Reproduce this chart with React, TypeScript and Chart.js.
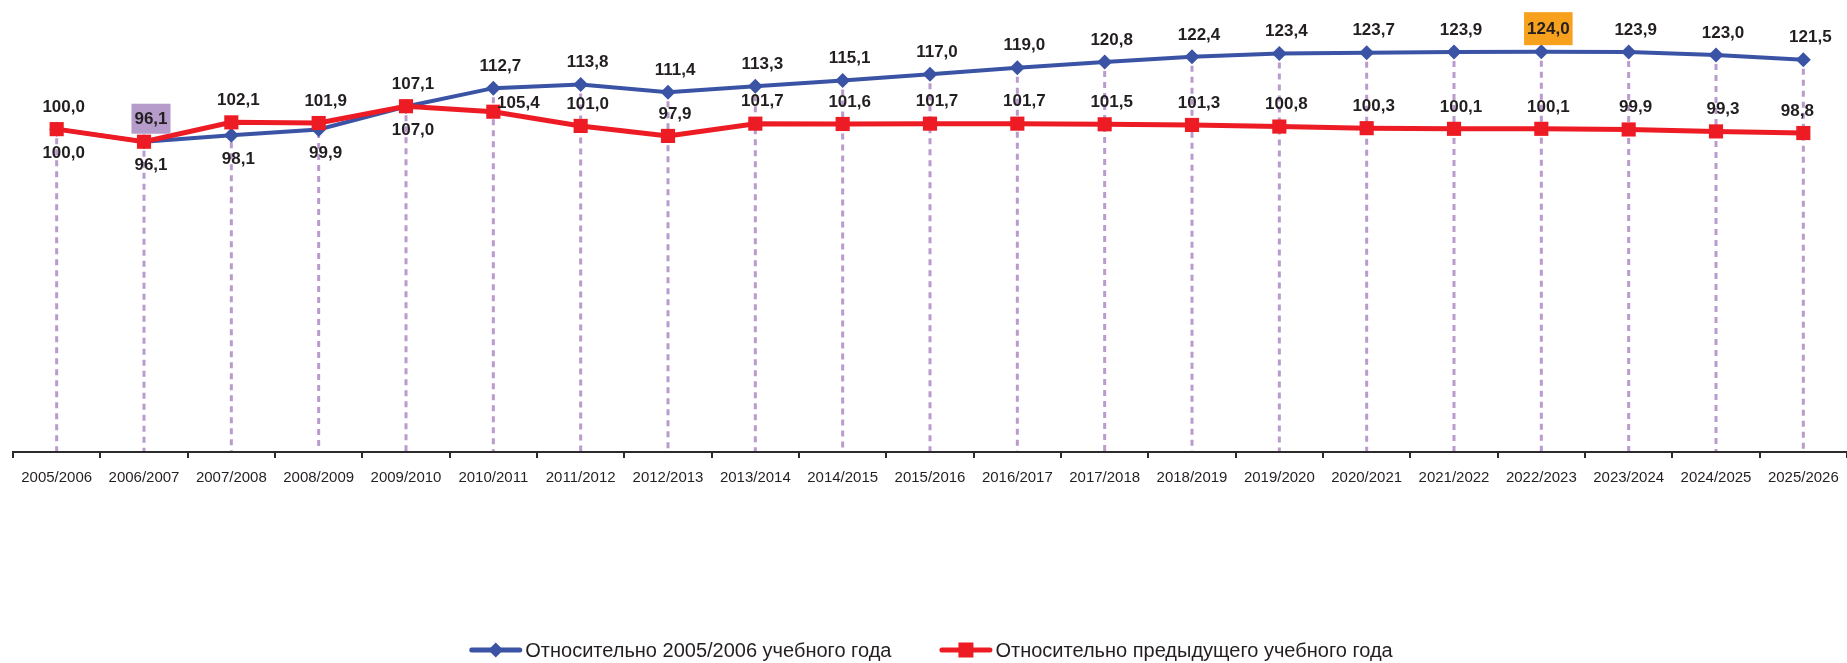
import React, { useEffect, useRef } from "react";
import { Chart, registerables } from "chart.js";

Chart.register(...registerables);

// ---------- DATA ----------
const categories = [
  "2005/2006", "2006/2007", "2007/2008", "2008/2009", "2009/2010", "2010/2011",
  "2011/2012", "2012/2013", "2013/2014", "2014/2015", "2015/2016", "2016/2017",
  "2017/2018", "2018/2019", "2019/2020", "2020/2021", "2021/2022", "2022/2023",
  "2023/2024", "2024/2025", "2025/2026",
];

const relativeToBase = [
  100.0, 96.1, 98.1, 99.9, 107.0, 112.7, 113.8, 111.4, 113.3, 115.1, 117.0,
  119.0, 120.8, 122.4, 123.4, 123.7, 123.9, 124.0, 123.9, 123.0, 121.5,
];

const relativeToPrevious = [
  100.0, 96.1, 102.1, 101.9, 107.1, 105.4, 101.0, 97.9, 101.7, 101.6, 101.7,
  101.7, 101.5, 101.3, 100.8, 100.3, 100.1, 100.1, 99.9, 99.3, 98.8,
];

const seriesLabels = [
  "Относительно 2005/2006 учебного года",
  "Относительно предыдущего учебного года",
];

const yMin = 0;
const yMax = 140;

// ---------- STYLE ----------
const FONT = '"Liberation Sans", Arial, Helvetica, sans-serif';
const BLUE = "#3A53A4";
const RED = "#ED1C24";
const DROP = "#B99BCD";
const TEXT = "#231F20";
const AXIS = "#2B2B2B";

const fmt = (v: number) => v.toFixed(1).replace(".", ",");

// blue labels are placed below the points for the first categories
const blueBelowCount = 5;
// highlighted labels: key = datasetIndex-pointIndex
const highlights: Record<string, { bg: string; h: number }> = {
  "1-1": { bg: "#B59CCB", h: 30 },
  "0-17": { bg: "#F7A11C", h: 33 },
};

const dropLinesPlugin = {
  id: "dropLines",
  beforeDatasetsDraw(chart: any) {
    const { ctx, chartArea } = chart;
    const m0 = chart.getDatasetMeta(0);
    const m1 = chart.getDatasetMeta(1);
    ctx.save();
    ctx.strokeStyle = DROP;
    ctx.lineWidth = 3;
    ctx.setLineDash([6, 5]);
    m0.data.forEach((p: any, i: number) => {
      const top = Math.min(p.y, m1.data[i].y) + 9;
      ctx.beginPath();
      ctx.moveTo(p.x, top);
      ctx.lineTo(p.x, chartArea.bottom - 1);
      ctx.stroke();
    });
    ctx.restore();
  },
};

const valueLabelsPlugin = {
  id: "valueLabels",
  afterDatasetsDraw(chart: any) {
    const ctx = chart.ctx;
    ctx.save();
    ctx.font = `bold 17px ${FONT}`;
    ctx.textAlign = "center";
    ctx.textBaseline = "middle";
    const last = categories.length - 1;
    chart.data.datasets.forEach((ds: any, di: number) => {
      const meta = chart.getDatasetMeta(di);
      meta.data.forEach((pt: any, i: number) => {
        const v = ds.data[i] as number;
        let dx = 7;
        let dy = -23;
        if (di === 0 && i < blueBelowCount) dy = 23;
        if (di === 1 && i === 5) {
          dx = 25;
          dy = -9;
        }
        if (di === 1 && i === last) dx = -6;
        const x = pt.x + dx;
        const y = pt.y + dy;
        const txt = fmt(v);
        const hl = highlights[`${di}-${i}`];
        if (hl) {
          const w = ctx.measureText(txt).width + 6;
          ctx.fillStyle = hl.bg;
          ctx.fillRect(x - w / 2, y - hl.h / 2, w, hl.h);
        }
        ctx.fillStyle = TEXT;
        ctx.fillText(txt, x, y + 1);
      });
    });
    ctx.restore();
  },
};

const legendPlugin = {
  id: "customLegend",
  afterDraw(chart: any) {
    const { ctx, chartArea } = chart;
    ctx.save();
    ctx.font = `20px ${FONT}`;
    ctx.textBaseline = "middle";
    ctx.textAlign = "left";
    const iconW = 53;
    const gapIcon = 3;
    const gapItems = 48;
    const items = [
      { text: seriesLabels[0], color: BLUE, shape: "diamond" },
      { text: seriesLabels[1], color: RED, shape: "square" },
    ];
    const widths = items.map((it) => iconW + gapIcon + ctx.measureText(it.text).width);
    const total = widths.reduce((a, b) => a + b, 0) + gapItems;
    let x = (chartArea.left + chartArea.right) / 2 + 1 - total / 2;
    const y = chart.height - 13;
    items.forEach((it, k) => {
      ctx.strokeStyle = it.color;
      ctx.fillStyle = it.color;
      ctx.lineWidth = 5;
      ctx.lineCap = "round";
      ctx.setLineDash([]);
      ctx.beginPath();
      ctx.moveTo(x + 2.5, y);
      ctx.lineTo(x + iconW - 2.5, y);
      ctx.stroke();
      const cx = x + iconW / 2;
      if (it.shape === "diamond") {
        ctx.beginPath();
        ctx.moveTo(cx - 7.5, y);
        ctx.lineTo(cx, y - 7.5);
        ctx.lineTo(cx + 7.5, y);
        ctx.lineTo(cx, y + 7.5);
        ctx.closePath();
        ctx.fill();
      } else {
        ctx.fillRect(cx - 7.5, y - 7.5, 15, 15);
      }
      ctx.fillStyle = TEXT;
      ctx.fillText(it.text, x + iconW + gapIcon, y + 1);
      x += widths[k] + gapItems;
    });
    ctx.restore();
  },
};

export default function App() {
  const canvasRef = useRef<HTMLCanvasElement | null>(null);

  useEffect(() => {
    if (!canvasRef.current) return;
    const chart = new Chart(canvasRef.current, {
      type: "line",
      data: {
        labels: categories,
        datasets: [
          {
            label: seriesLabels[0],
            data: relativeToBase,
            borderColor: BLUE,
            backgroundColor: BLUE,
            borderWidth: 4,
            pointStyle: "rectRot",
            pointRadius: 7.5,
            pointHoverRadius: 7.5,
            pointBackgroundColor: BLUE,
            pointBorderWidth: 0,
            tension: 0,
            order: 1,
            clip: false as any,
          },
          {
            label: seriesLabels[1],
            data: relativeToPrevious,
            borderColor: RED,
            backgroundColor: RED,
            borderWidth: 5,
            pointStyle: "rect",
            pointRadius: 10,
            pointHoverRadius: 10,
            pointBackgroundColor: RED,
            pointBorderWidth: 0,
            tension: 0,
            order: 0,
            clip: false as any,
          },
        ],
      },
      options: {
        responsive: false,
        devicePixelRatio: 1,
        animation: false,
        layout: { autoPadding: false, padding: { left: 13, right: 0, top: 0, bottom: 0 } },
        plugins: {
          legend: { display: false },
          tooltip: { enabled: false },
        },
        scales: {
          x: {
            offset: true,
            grid: {
              offset: true,
              drawOnChartArea: false,
              drawTicks: true,
              tickLength: 6,
              color: AXIS,
              lineWidth: 2,
            },
            border: { display: true, color: AXIS, width: 2 },
            ticks: {
              font: { family: FONT, size: 15 },
              color: TEXT,
              padding: 11,
              maxRotation: 0,
              autoSkip: false,
            },
            afterFit: (s: any) => {
              s.height = 211;
              s.paddingLeft = 0;
              s.paddingRight = 0;
            },
          },
          y: {
            display: false,
            min: yMin,
            max: yMax,
          },
        },
      },
      plugins: [dropLinesPlugin, valueLabelsPlugin, legendPlugin],
    });
    return () => chart.destroy();
  }, []);

  return (
    <div
      style={{
        position: "absolute",
        left: 0,
        top: 0,
        width: 1847,
        height: 663,
        background: "#ffffff",
      }}
    >
      <canvas
        ref={canvasRef}
        width={1847}
        height={663}
        style={{ display: "block", width: 1847, height: 663 }}
      />
    </div>
  );
}
